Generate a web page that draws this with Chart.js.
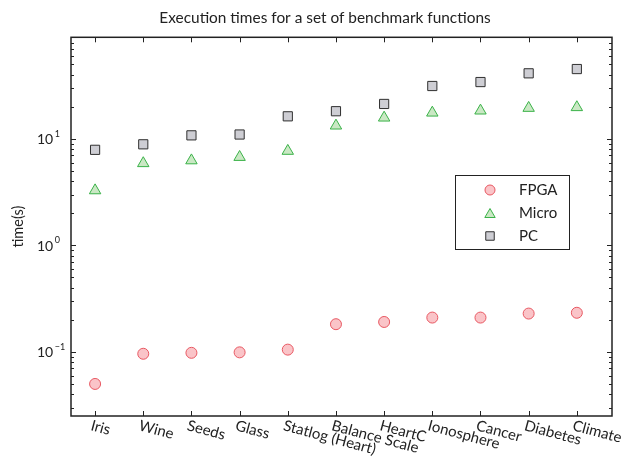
<!DOCTYPE html>
<html>
<head>
<meta charset="utf-8">
<script src="https://cdn.jsdelivr.net/npm/chart.js@4"></script>
<style>
html, body { margin: 0; padding: 0; background: #fff; }
#wrap { width: 626px; height: 459px; }
</style>
</head>
<body>
<div id="wrap"><canvas id="timeChart"></canvas></div>
<script>
let categories = ['Iris', 'Wine', 'Seeds', 'Glass', 'Statlog (Heart)', 'Balance Scale', 'HeartC', 'Ionosphere', 'Cancer', 'Diabetes', 'Climate'];
let fpga_times = [0.05, 0.096, 0.098, 0.099, 0.105, 0.182, 0.191, 0.21, 0.21, 0.229, 0.233];
let micro_times = [3.28, 5.9, 6.27, 6.75, 7.7, 13.3, 15.8, 17.6, 18.4, 19.5, 19.8];
let pc_times = [7.9, 8.9, 10.8, 11, 16.3, 18.2, 21.3, 31.4, 34.2, 41.3, 45.3];
let y_major = [0.1, 1, 10];
let y_major_exp = ['\u22121', '0', '1'];
let chart_title = 'Execution times for a set of benchmark functions';

const FONT = 'Lato, "Open Sans", sans-serif';
const INK = '#222';

function toPoints(values) {
	return values.map((v, i) => ({ x: i + 1, y: v }));
}

let series_styles = [
	{ label: 'FPGA', style: 'circle', radius: 5.5, fill: 'rgb(250, 196, 200)', line: 'rgb(232, 88, 98)', data: fpga_times },
	{ label: 'Micro', style: 'triangle', radius: 6.6, fill: 'rgb(202, 232, 196)', line: 'rgb(58, 178, 72)', data: micro_times },
	{ label: 'PC', style: 'rect', radius: 6.5, fill: 'rgb(206, 206, 212)', line: 'rgb(48, 48, 48)', data: pc_times }
];

// title, frame, inward ticks, tick labels and legend
let framePlugin = {
	id: 'frame',
	afterDraw(chart) {
		const ctx = chart.ctx;
		const area = chart.chartArea;
		const xs = chart.scales.x;
		const ys = chart.scales.y;
		ctx.save();

		ctx.fillStyle = INK;
		ctx.font = '15.4px ' + FONT;
		ctx.textAlign = 'center';
		ctx.textBaseline = 'middle';
		ctx.fillText(chart_title, 325, 18);

		ctx.strokeStyle = INK;
		ctx.lineWidth = 1.5;
		ctx.strokeRect(area.left, area.top, area.right - area.left, area.bottom - area.top);

		ctx.lineWidth = 1;
		ctx.beginPath();
		categories.forEach((c, i) => {
			let px = Math.round(xs.getPixelForValue(i + 1)) + 0.5;
			ctx.moveTo(px, area.bottom); ctx.lineTo(px, area.bottom - 5);
			ctx.moveTo(px, area.top); ctx.lineTo(px, area.top + 5);
		});
		for (let d = -2; d <= 1; d++) {
			for (let m = 1; m <= 9; m++) {
				let v = m * Math.pow(10, d);
				if (v < ys.min || v > ys.max) continue;
				let py = Math.round(ys.getPixelForValue(v)) + 0.5;
				let len = m === 1 ? 5 : 3;
				ctx.moveTo(area.left, py); ctx.lineTo(area.left + len, py);
				ctx.moveTo(area.right, py); ctx.lineTo(area.right - len, py);
			}
		}
		ctx.stroke();

		// y tick labels with superscript
		ctx.textBaseline = 'middle';
		ctx.textAlign = 'left';
		y_major.forEach((v, i) => {
			let py = ys.getPixelForValue(v) + 1;
			ctx.font = '14px ' + FONT;
			ctx.fillText('10', 37, py);
			let w = ctx.measureText('10').width;
			ctx.font = '9px ' + FONT;
			ctx.fillText(y_major_exp[i], 37 + w + 1.5, py - 6);
		});

		// rotated category labels
		ctx.font = '15px ' + FONT;
		ctx.textBaseline = 'top';
		categories.forEach((c, i) => {
			let px = xs.getPixelForValue(i + 1);
			ctx.save();
			ctx.translate(px - 2, area.bottom + 2);
			ctx.rotate(15 * Math.PI / 180);
			ctx.fillText(c, 0, 0);
			ctx.restore();
		});

		// legend
		ctx.lineWidth = 1;
		ctx.strokeStyle = INK;
		ctx.fillStyle = '#fff';
		ctx.fillRect(455.5, 175.5, 114, 74);
		ctx.strokeRect(455.5, 175.5, 114, 74);
		series_styles.forEach((s, i) => {
			let ly = 190 + i * 23;
			ctx.fillStyle = s.fill;
			ctx.strokeStyle = s.line;
			let r = s.style === 'triangle' ? 6 : s.radius - 0.5;
			Chart.helpers.drawPoint(ctx, { pointStyle: s.style, radius: r, borderWidth: 1, rotation: 0 }, 490, s.style === 'triangle' ? ly + 1.5 : ly);
			ctx.fillStyle = INK;
			ctx.textBaseline = 'middle';
			ctx.font = '15px ' + FONT;
			ctx.fillText(s.label, 519, ly);
		});
		ctx.restore();
	}
};

let timeChart = new Chart('timeChart', {
	type: 'scatter',
	data: {
		datasets: series_styles.map(s => ({
			label: s.label,
			data: toPoints(s.data),
			pointStyle: s.style,
			pointRadius: s.radius,
			pointHoverRadius: s.radius,
			pointBackgroundColor: s.fill,
			pointBorderColor: s.line,
			pointBorderWidth: 1
		}))
	},
	options: {
		responsive: true,
		maintainAspectRatio: false,
		animation: false,
		layout: { padding: { top: 37.3, right: 14, bottom: 0, left: 0 } },
		plugins: {
			legend: { display: false },
			tooltip: { enabled: false },
			title: { display: false }
		},
		scales: {
			x: {
				type: 'linear',
				min: 0.5,
				max: 11.73,
				grid: { display: false },
				border: { display: false },
				ticks: { display: false },
				afterFit(scale) { scale.height = 43; }
			},
			y: {
				type: 'logarithmic',
				min: 0.025,
				max: 90,
				grid: { display: false },
				border: { display: false },
				ticks: { display: false },
				title: {
					display: true,
					text: 'time(s)',
					color: INK,
					font: { family: FONT, size: 14.5 },
					padding: { top: 10 }
				},
				afterFit(scale) { scale.width = 71; }
			}
		}
	},
	plugins: [framePlugin]
});
</script>
</body>
</html>
